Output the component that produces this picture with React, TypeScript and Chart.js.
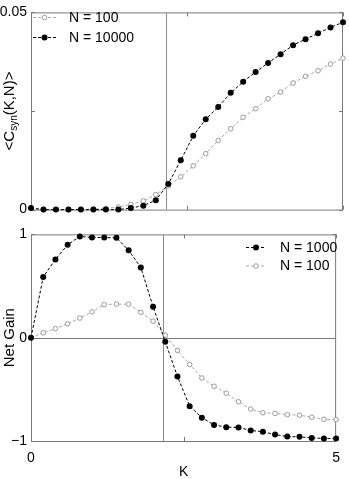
import React, { useEffect, useRef } from 'react';
import { Chart, registerables } from 'chart.js';

Chart.register(...registerables);

const FONT = '"Liberation Sans", Arial, Helvetica, sans-serif';

// K values (x axis)
const K = [0, 0.2, 0.4, 0.6, 0.8, 1.0, 1.2, 1.4, 1.6, 1.8, 2.0, 2.2, 2.4, 2.6, 2.8, 3.0, 3.2, 3.4, 3.6, 3.8, 4.0, 4.2, 4.4, 4.6, 4.8, 5.0];

// Top panel: <C_syn(K,N)>
const topN100 = [0.0003, 0, 0, 0, 0, 0.0001, 0.0003, 0.00065, 0.0013, 0.0022, 0.0038, 0.006, 0.0083, 0.0111, 0.0142, 0.0175, 0.0205, 0.0234, 0.0256, 0.0281, 0.0298, 0.0321, 0.0338, 0.0352, 0.0369, 0.0384];
const topN10000 = [0.0004, 0, 0, 0, 0, 0, 0, 0, 0.0004, 0.001, 0.0024, 0.0065, 0.0125, 0.0187, 0.0229, 0.026, 0.0296, 0.0324, 0.0349, 0.0372, 0.0394, 0.0417, 0.0432, 0.0447, 0.0462, 0.0475];

// Bottom panel: Net Gain
const botN1000 = [0, 0.588, 0.758, 0.9, 0.98, 0.97, 0.97, 0.967, 0.846, 0.68, 0.3, -0.038, -0.376, -0.663, -0.774, -0.844, -0.866, -0.869, -0.898, -0.91, -0.938, -0.957, -0.96, -0.97, -0.975, -0.976];
const botN100 = [0, 0.047, 0.088, 0.134, 0.19, 0.25, 0.32, 0.325, 0.325, 0.246, 0.16, 0.025, -0.123, -0.259, -0.39, -0.47, -0.537, -0.62, -0.69, -0.727, -0.733, -0.745, -0.75, -0.77, -0.79, -0.793];

const K_CRIT = 2.17;
const X_TICKS = [0, 2.5, 5];
const TOP_Y_TICKS = [0, 0.025, 0.05];
const BOT_Y_TICKS = [-1, 0, 1];

const topLegend = [
  { label: 'N = 100', kind: 'gray' },
  { label: 'N = 10000', kind: 'black' },
];
const botLegend = [
  { label: 'N = 1000', kind: 'black' },
  { label: 'N = 100', kind: 'gray' },
];

const FRAME = '#7a7a7a';
const GRAY_LINE = '#a8a8a8';
const GRAY_PT = '#9a9a9a';

const toXY = (ys: number[]) => ys.map((y, i) => ({ x: K[i], y }));

const blackDs = (label: string, ys: number[]) => ({
  label,
  data: toXY(ys),
  borderColor: '#000',
  borderWidth: 1,
  borderDash: [3, 2],
  pointRadius: 3,
  pointBackgroundColor: '#000',
  pointBorderColor: '#000',
  pointBorderWidth: 0,
  clip: false as any,
  order: 0,
});
const grayDs = (label: string, ys: number[]) => ({
  label,
  data: toXY(ys),
  borderColor: GRAY_LINE,
  borderWidth: 1,
  borderDash: [3, 2],
  pointRadius: 2.3,
  pointBackgroundColor: '#fff',
  pointBorderColor: GRAY_PT,
  pointBorderWidth: 1,
  clip: false as any,
  order: 1,
});

function framePlugin(yTicks: number[], zeroLine: boolean) {
  return {
    id: 'frame',
    beforeDatasetsDraw(chart: any) {
      const { ctx, chartArea: a, scales } = chart;
      const xs = scales.x;
      const ys = scales.y;
      ctx.save();
      ctx.lineWidth = 1;
      ctx.strokeStyle = FRAME;
      ctx.setLineDash([]);
      ctx.strokeRect(a.left + 0.5, a.top + 0.5, a.right - a.left - 1, a.bottom - a.top);
      const tl = 4;
      X_TICKS.forEach((v) => {
        const px = Math.round(xs.getPixelForValue(v)) + 0.5;
        ctx.beginPath();
        ctx.moveTo(px, a.bottom);
        ctx.lineTo(px, a.bottom - tl);
        ctx.moveTo(px, a.top);
        ctx.lineTo(px, a.top + tl);
        ctx.stroke();
      });
      yTicks.forEach((v) => {
        const py = Math.round(ys.getPixelForValue(v)) + 0.5;
        ctx.beginPath();
        ctx.moveTo(a.left, py);
        ctx.lineTo(a.left + tl, py);
        ctx.moveTo(a.right, py);
        ctx.lineTo(a.right - tl, py);
        ctx.stroke();
      });
      ctx.strokeStyle = '#8c8c8c';
      const vx = Math.round(xs.getPixelForValue(K_CRIT)) + 0.5;
      ctx.beginPath();
      ctx.moveTo(vx, a.top);
      ctx.lineTo(vx, a.bottom);
      ctx.stroke();
      if (zeroLine) {
        ctx.strokeStyle = FRAME;
        const zy = Math.round(ys.getPixelForValue(0)) + 0.5;
        ctx.beginPath();
        ctx.moveTo(a.left, zy);
        ctx.lineTo(a.right, zy);
        ctx.stroke();
      }
      ctx.restore();
    },
  };
}

function legendPlugin(items: { label: string; kind: string }[], x1: number, x2: number, tx: number, y0: number, dy: number) {
  return {
    id: 'boxlegend',
    afterDatasetsDraw(chart: any) {
      const { ctx } = chart;
      ctx.save();
      items.forEach((it, i) => {
        const y = y0 + i * dy;
        const mx = (x1 + x2) / 2;
        ctx.lineWidth = 1;
        ctx.setLineDash([3, 2]);
        ctx.strokeStyle = it.kind === 'black' ? '#000' : GRAY_LINE;
        ctx.beginPath();
        ctx.moveTo(x1, y + 0.5);
        ctx.lineTo(x2, y + 0.5);
        ctx.stroke();
        ctx.setLineDash([]);
        ctx.beginPath();
        if (it.kind === 'black') {
          ctx.fillStyle = '#000';
          ctx.arc(mx, y + 0.5, 3, 0, Math.PI * 2);
          ctx.fill();
        } else {
          ctx.fillStyle = '#fff';
          ctx.strokeStyle = GRAY_PT;
          ctx.arc(mx, y + 0.5, 2.3, 0, Math.PI * 2);
          ctx.fill();
          ctx.stroke();
        }
        ctx.fillStyle = '#000';
        ctx.font = `14px ${FONT}`;
        ctx.textAlign = 'left';
        ctx.textBaseline = 'middle';
        ctx.fillText(it.label, tx, y + 1);
      });
      ctx.restore();
    },
  };
}

const ylabelPlugin = {
  id: 'csynLabel',
  afterDraw(chart: any) {
    const { ctx, chartArea: a } = chart;
    ctx.save();
    const main = `15px ${FONT}`;
    const sub = `10px ${FONT}`;
    const parts = [
      { t: '<C', f: main, dv: 0 },
      { t: 'syn', f: sub, dv: 3 },
      { t: '(K,N)>', f: main, dv: 0 },
    ];
    let total = 0;
    parts.forEach((p) => {
      ctx.font = p.f;
      total += ctx.measureText(p.t).width;
    });
    ctx.translate(14, (a.top + a.bottom) / 2);
    ctx.rotate(-Math.PI / 2);
    ctx.fillStyle = '#000';
    ctx.textAlign = 'left';
    ctx.textBaseline = 'alphabetic';
    let u = -total / 2;
    parts.forEach((p) => {
      ctx.font = p.f;
      ctx.fillText(p.t, u, p.dv);
      u += ctx.measureText(p.t).width;
    });
    ctx.restore();
  },
};

function TopChart() {
  const ref = useRef<HTMLCanvasElement>(null);
  useEffect(() => {
    const chart = new Chart(ref.current as HTMLCanvasElement, {
      type: 'line',
      data: {
        datasets: [blackDs('N = 10000', topN10000), grayDs('N = 100', topN100)] as any,
      },
      options: {
        animation: false,
        responsive: false,
        devicePixelRatio: 1,
        layout: { padding: { top: 4, right: 6, bottom: 9, left: 0 } },
        plugins: { legend: { display: false }, tooltip: { enabled: false } },
        scales: {
          x: {
            type: 'linear',
            min: 0,
            max: 5,
            ticks: { display: false, stepSize: 2.5 },
            grid: { display: false, drawTicks: false },
            border: { display: false },
            afterFit: (s: any) => {
              s.height = 0;
            },
          },
          y: {
            type: 'linear',
            min: 0,
            max: 0.05,
            ticks: {
              stepSize: 0.025,
              padding: 4,
              color: '#000',
              font: { family: FONT, size: 14 },
              callback: (v: any) => {
                const n = Number(v);
                if (Math.abs(n) < 1e-9) return '0';
                if (Math.abs(n - 0.05) < 1e-9) return '0.05';
                return '';
              },
            },
            grid: { display: false, drawTicks: false },
            border: { display: false },
            afterFit: (s: any) => {
              s.width = 31;
            },
          },
        },
      } as any,
      plugins: [framePlugin(TOP_Y_TICKS, false), legendPlugin(topLegend, 33, 56, 69, 17, 20), ylabelPlugin] as any,
    });
    return () => chart.destroy();
  }, []);
  return <canvas ref={ref} width={349} height={222} style={{ position: 'absolute', left: 0, top: 0 }} />;
}

function BottomChart() {
  const ref = useRef<HTMLCanvasElement>(null);
  useEffect(() => {
    const chart = new Chart(ref.current as HTMLCanvasElement, {
      type: 'line',
      data: {
        datasets: [blackDs('N = 1000', botN1000), grayDs('N = 100', botN100)] as any,
      },
      options: {
        animation: false,
        responsive: false,
        devicePixelRatio: 1,
        layout: { padding: { top: 8, right: 6, bottom: 0, left: 0 } },
        plugins: { legend: { display: false }, tooltip: { enabled: false } },
        scales: {
          x: {
            type: 'linear',
            min: 0,
            max: 5,
            ticks: {
              stepSize: 2.5,
              padding: 9,
              color: '#000',
              maxRotation: 0,
              autoSkip: false,
              font: { family: FONT, size: 14 },
              callback: (v: any) => {
                const n = Number(v);
                if (n === 0) return '0';
                if (n === 5) return '5';
                return '';
              },
            },
            grid: { display: false, drawTicks: false },
            border: { display: false },
            title: {
              display: true,
              text: 'K',
              color: '#000',
              font: { family: FONT, size: 14, lineHeight: 1 },
              padding: { top: 0, bottom: 0 },
            },
            afterFit: (s: any) => {
              s.height = 38;
            },
          },
          y: {
            type: 'linear',
            min: -1,
            max: 1,
            ticks: {
              stepSize: 1,
              padding: 4,
              color: '#000',
              font: { family: FONT, size: 14 },
              callback: (v: any) => {
                const n = Number(v);
                if (n === -1) return '\u22121';
                return String(n);
              },
            },
            grid: { display: false, drawTicks: false },
            border: { display: false },
            title: {
              display: true,
              text: 'Net Gain',
              color: '#000',
              font: { family: FONT, size: 15, lineHeight: 1.2 },
              padding: { top: 1, bottom: 0 },
            },
            afterFit: (s: any) => {
              s.width = 31;
            },
          },
        },
      } as any,
      plugins: [framePlugin(BOT_Y_TICKS, true), legendPlugin(botLegend, 246, 266, 280, 25, 18.5)] as any,
    });
    return () => chart.destroy();
  }, []);
  return <canvas ref={ref} width={349} height={257} style={{ position: 'absolute', left: 0, top: 222 }} />;
}

export default function App() {
  return (
    <div style={{ position: 'fixed', left: 0, top: 0, width: 349, height: 479, background: '#fff', overflow: 'hidden' }}>
      <TopChart />
      <BottomChart />
    </div>
  );
}
